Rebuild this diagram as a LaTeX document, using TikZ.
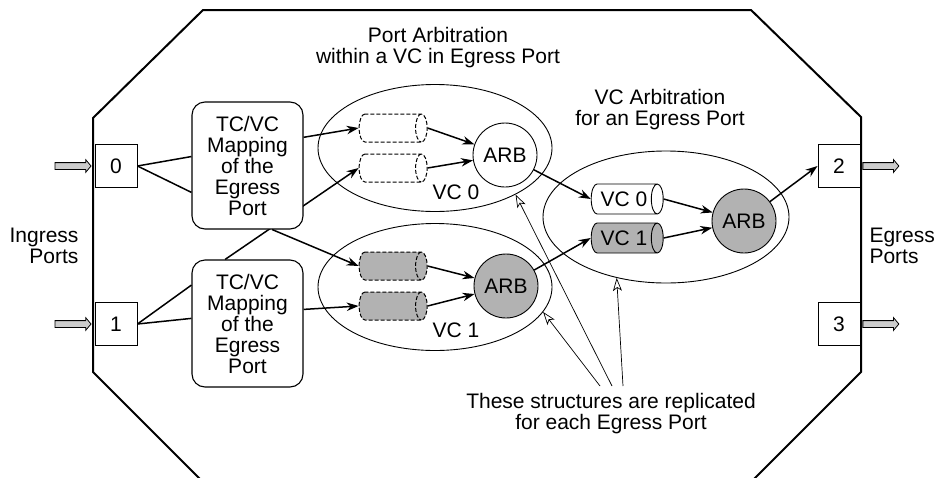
\documentclass[tikz,border=0pt]{standalone}
\usepackage{fontspec}
\setmainfont{Liberation Sans}
\usetikzlibrary{arrows.meta,positioning,calc,shapes.geometric,shapes.arrows,backgrounds}

\begin{document}
\begin{tikzpicture}[
    x=1pt, y=-1pt,
    font=\fontsize{21}{21}\selectfont,
    % Node styles
    portbox/.style={draw, line width=0.9pt, fill=white, minimum width=42pt, minimum height=43pt, inner sep=0pt},
    mapbox/.style={draw, line width=1.1pt, fill=white, rounded corners=13pt, minimum width=111pt, minimum height=127pt, align=center, inner sep=0pt},
    vcgroup/.style={ellipse, draw, line width=0.9pt, minimum width=234pt, minimum height=127pt, inner sep=0pt},
    queue/.style={cylinder, draw, dash pattern=on 4pt off 2pt, line width=1pt, minimum width=28pt, minimum height=68pt, aspect=0.55, inner sep=0pt},
    vcqueue/.style={cylinder, draw, line width=0.9pt, minimum width=30pt, minimum height=72pt, aspect=0.8, inner sep=0pt},
    arb/.style={circle, draw, line width=0.9pt, minimum size=64pt, inner sep=0pt},
    % Connectors
    flow/.style={line width=1.5pt, -{Stealth[length=12pt, width=8.5pt]}},
    link/.style={line width=1.5pt},
    pointer/.style={line width=0.7pt, -{Stealth[open, length=13pt, width=9pt, inset=3pt]}},
    fatarrow/.style={single arrow, draw, line width=0.8pt, fill=gray!40, minimum height=36pt, inner xsep=0pt, inner ysep=3pt, single arrow head extend=3pt, single arrow tip angle=100}
]
    \useasboundingbox (0,0) rectangle (936,477);

    % --- switch outline ---
    \draw[line width=2pt] (203,10) -- (751,10) -- (861,117) -- (861,372) -- (751,482)
        -- (203,482) -- (93,372) -- (93,118) -- cycle;

    % --- ports ---
    \node[portbox] (p0) at (116,166) {0};
    \node[portbox] (p1) at (116,324) {1};
    \node[portbox] (p2) at (839,166) {2};
    \node[portbox] (p3) at (839,324) {3};
    \node[fatarrow, left=3pt of p0] (in0) {};
    \node[fatarrow, left=3pt of p1] (in1) {};
    \node[fatarrow, right=2pt of p2] (out2) {};
    \node[fatarrow, right=2pt of p3] (out3) {};

    \node[anchor=east, align=right] (ingress) at (82,246) {Ingress\\Ports};
    \node[anchor=west, align=left] (egress) at (866,246) {Egress\\Ports};

    % --- TC/VC mapping ---
    \node[mapbox] (map0) at (247.5,165.5) {TC/VC\\Mapping\\of the\\Egress\\Port};
    \node[mapbox] (map1) at (247.5,323.5) {TC/VC\\Mapping\\of the\\Egress\\Port};

    % --- port arbitration (one group per VC) ---
    \node[align=center] (parb) at (438,48) {Port Arbitration\\within a VC in Egress Port};
    \node[vcgroup] (grp0) at (435,148) {};
    \node[vcgroup] (grp1) at (435,287) {};
    \node[queue] (qa0) at (390,128) {\strut};
    \node[queue] (qa1) at (390,168) {\strut};
    \node[queue, fill=gray!60] (qb0) at (390,266) {\strut};
    \node[queue, fill=gray!60] (qb1) at (390,306) {\strut};
    \node[arb] (arb0) at (505,155) {ARB};
    \node[arb, fill=gray!60] (arb1) at (506,286) {ARB};
    \node (vc0lbl) at (456,192) {VC 0};
    \node (vc1lbl) at (456,330) {VC 1};

    % --- VC arbitration ---
    \node[align=center] (vcarb) at (660,110) {VC Arbitration\\for an Egress Port};
    \node[vcgroup, minimum width=246pt, minimum height=132pt] (grp2) at (666,217) {};
    \node[vcqueue] (vq0) at (624,199) {VC 0\hspace{6pt}};
    \node[vcqueue, fill=gray!60] (vq1) at (624,238) {VC 1\hspace{6pt}};
    \node[arb, fill=gray!60] (arb2) at (744,221) {ARB};

    % --- connections ---
    \draw[link] (p0.east) -- ($(map0.north west)!0.43!(map0.south west)$);
    \draw[link] (p0.east) -- ($(map0.north west)!0.71!(map0.south west)$);
    \draw[link] (p1.east) -- ($(map1.north west)!0.2!(map1.south west)$);
    \draw[link] (p1.east) -- ($(map1.north west)!0.46!(map1.south west)$);

    \draw[flow] ($(map0.north east)!0.28!(map0.south east)$) -- (qa0.west);
    \draw[flow] ($(map0.south west)!0.72!(map0.south east)$) -- (qb0.west);
    \draw[flow] ($(map1.north east)!0.39!(map1.south east)$) -- (qb1.west);
    \begin{scope}[on background layer]
        \draw[flow] ($(map1.north west)!0.3!(map1.north east)$) -- (qa1.west);
    \end{scope}

    \draw[flow] (qa0.east) -- (arb0);
    \draw[flow] (qa1.east) -- (arb0);
    \draw[flow] (qb0.east) -- (arb1);
    \draw[flow] (qb1.east) -- (arb1);
    \draw[flow] (arb0) -- (vq0.west);
    \draw[flow] (arb1) -- (vq1.west);
    \draw[flow] (vq0.east) -- (arb2);
    \draw[flow] (vq1.east) -- (arb2);
    \draw[flow] (arb2) -- (p2.west);

    % --- note ---
    \node[align=center] (note) at (611,414) {These structures are replicated\\for each Egress Port};
    \coordinate (n1) at (600,386);
    \coordinate (n2) at (612,386);
    \coordinate (n3) at (623,386);
    \draw[pointer] (n1) -- (grp1.-13);
    \draw[pointer] (n2) -- (grp0.-30);
    \draw[pointer] (n3) -- (grp2.-129);

\end{tikzpicture}
\end{document}
